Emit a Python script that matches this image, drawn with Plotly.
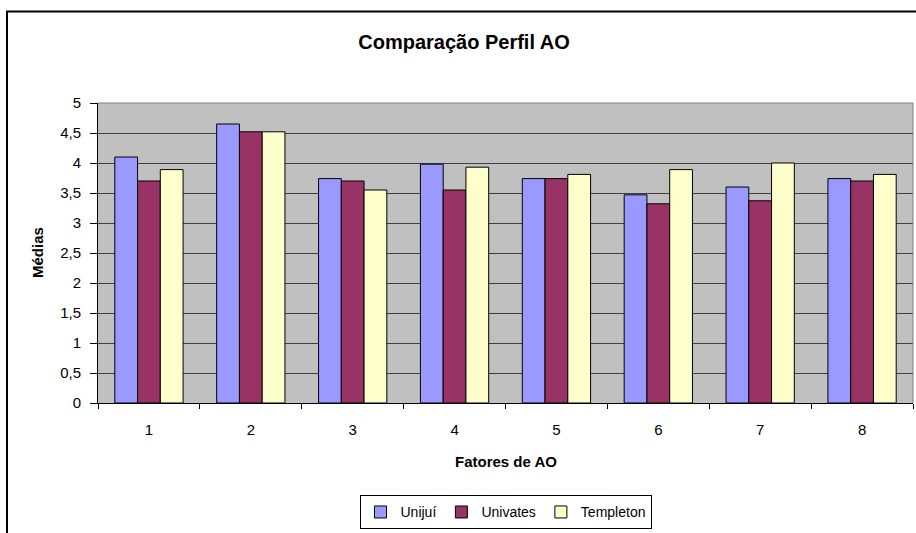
import plotly.graph_objects as go

categories = ["1", "2", "3", "4", "5", "6", "7", "8"]
unijui = [4.10, 4.65, 3.74, 3.98, 3.74, 3.47, 3.60, 3.74]
univates = [3.70, 4.52, 3.70, 3.55, 3.74, 3.32, 3.37, 3.70]
templeton = [3.89, 4.52, 3.55, 3.93, 3.81, 3.89, 4.00, 3.81]
y_ticks = [0, 0.5, 1, 1.5, 2, 2.5, 3, 3.5, 4, 4.5, 5]
y_tick_labels = ["0", "0,5", "1", "1,5", "2", "2,5", "3", "3,5", "4", "4,5", "5"]

series = [
    ("Unijuí", unijui, "#9999FF"),
    ("Univates", univates, "#993366"),
    ("Templeton", templeton, "#FFFFCC"),
]

fig = go.Figure()
for name, vals, col in series:
    fig.add_trace(go.Bar(
        x=categories, y=vals, name=name,
        marker=dict(color=col, line=dict(color="black", width=1)),
    ))

L, R, T, B = 98, 3, 103, 128
W, H = 916, 533
pw = W - L - R
ph = H - T - B

def px_x(p):
    return (p - L) / pw

def px_y(p):
    return (H - B - p) / ph

FONT = "Liberation Sans, Arial, sans-serif"

fig.update_layout(
    width=W, height=H,
    margin=dict(l=L, r=R, t=T, b=B, pad=0),
    paper_bgcolor="white",
    plot_bgcolor="#C0C0C0",
    barmode="group",
    bargap=0.33,
    bargroupgap=0,
    font=dict(family=FONT, size=15, color="black"),
    title=dict(text="<b>Comparação Perfil AO</b>", x=464 / W, xref="container",
               xanchor="center", y=1 - 42 / H, yref="container", yanchor="middle",
               font=dict(size=20)),
    showlegend=True,
    legend=dict(orientation="h", x=0.5, xanchor="center", y=px_y(498), yanchor="top",
                bordercolor="black", borderwidth=1, bgcolor="white",
                font=dict(size=14), itemwidth=30, tracegroupgap=0),
    xaxis=dict(
        type="category", showline=True, linecolor="black", linewidth=1,
        ticks="outside", ticklen=5, tickcolor="black", tickson="boundaries",
        ticklabelstandoff=13,
        showgrid=False, zeroline=False,
    ),
    yaxis=dict(
        range=[0, 5], tickvals=y_ticks, ticktext=y_tick_labels,
        showline=True, linecolor="black", linewidth=1,
        ticks="outside", ticklen=7, tickcolor="black",
        ticklabelstandoff=6,
        showgrid=True, gridcolor="#404040", gridwidth=1, zeroline=False,
    ),
    annotations=[
        dict(text="<b>Fatores de AO</b>", xref="paper", yref="paper",
             x=0.5, y=px_y(464), xanchor="center", yanchor="middle",
             showarrow=False, font=dict(size=15)),
        dict(text="<b>Médias</b>", xref="paper", yref="paper",
             x=px_x(37), y=0.5, xanchor="center", yanchor="middle",
             textangle=-90, showarrow=False, font=dict(size=15)),
    ],
    shapes=[
        dict(type="rect", xref="paper", yref="paper",
             x0=px_x(7), x1=px_x(930), y0=px_y(560), y1=px_y(11),
             line=dict(color="black", width=2), fillcolor="rgba(0,0,0,0)", layer="below"),
        dict(type="line", xref="paper", yref="paper", x0=0, x1=1, y0=1, y1=1,
             line=dict(color="#808080", width=1)),
        dict(type="line", xref="paper", yref="paper", x0=1, x1=1, y0=0, y1=1,
             line=dict(color="#808080", width=1)),
    ],
)

fig.write_html("out.html", config={"displayModeBar": False},
               post_script="document.body.style.margin='0px';document.body.style.overflow='hidden';")
